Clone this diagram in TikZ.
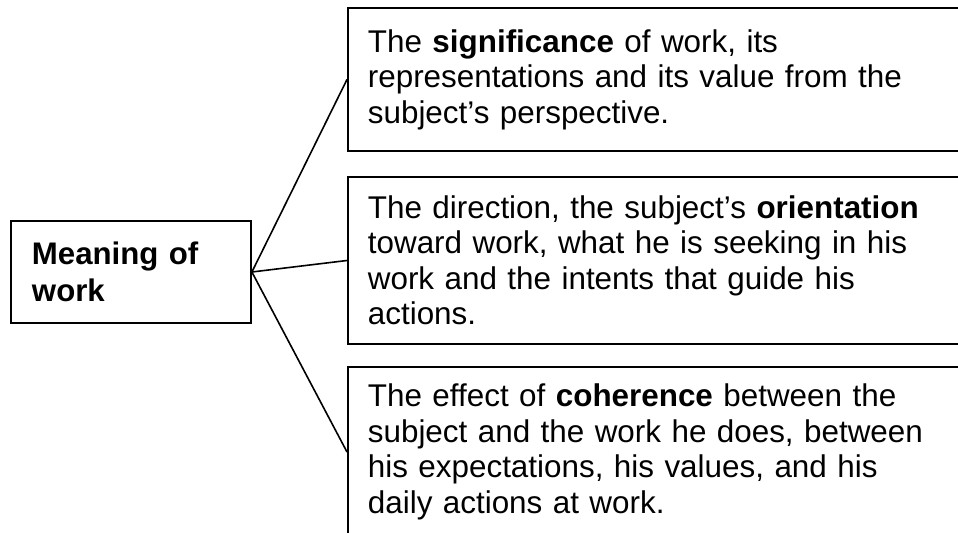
\documentclass[tikz,border=0pt]{standalone}
\usepackage{fontspec}
\setmainfont{Liberation Sans}
\usetikzlibrary{positioning}
\tikzset{
  mainbox/.style={draw,line width=0.9pt,align=left,text width=99pt,inner sep=10.5pt,
    minimum width=120pt,minimum height=48pt,font=\fontsize{15.6}{18.5}\selectfont\bfseries},
  aspectbox/.style={draw,line width=0.9pt,align=left,text width=300pt,inner xsep=10pt,
    minimum width=320pt,anchor=west,font=\fontsize{15.7}{17.75}\selectfont},
  link/.style={line width=0.8pt}
}
\begin{document}
\begin{tikzpicture}[x=0.5pt,y=-0.5pt]
\useasboundingbox (0,0) rectangle (958,533);
\clip (0,0) rectangle (958,533);
\node[mainbox] (meaning) at (131,272) {Meaning of\\work};
\node[aspectbox,minimum height=71.5pt] (significance) at (347,79.5)
  {The \textbf{significance} of work, its\\
   representations and its value from the\\
   subject’s perspective.};
\node[aspectbox,minimum height=83.5pt] (orientation) at (347,260.5)
  {The direction, the subject’s \textbf{orientation}\\
   toward work, what he is seeking in his\\
   work and the intents that guide his\\
   actions.};
\node[aspectbox,minimum height=85pt] (coherence) at (347,452)
  {The effect of \textbf{coherence} between the\\
   subject and the work he does, between\\
   his expectations, his values, and his\\
   daily actions at work.};
\draw[link] (meaning.east) -- (significance.west);
\draw[link] (meaning.east) -- (orientation.west);
\draw[link] (meaning.east) -- (coherence.west);
\end{tikzpicture}
\end{document}
